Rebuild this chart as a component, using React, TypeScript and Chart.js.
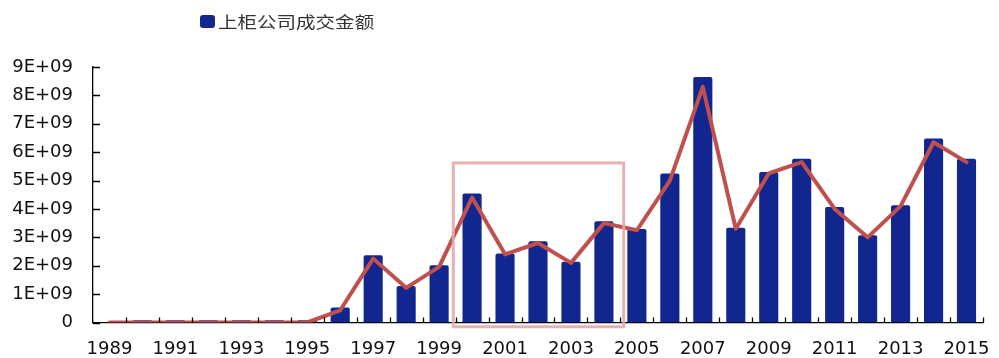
import React, { useEffect, useRef } from "react";
import { Chart, registerables } from "chart.js";

Chart.register(...registerables);

const years: string[] = [
  "1989", "1990", "1991", "1992", "1993", "1994", "1995", "1996", "1997",
  "1998", "1999", "2000", "2001", "2002", "2003", "2004", "2005", "2006",
  "2007", "2008", "2009", "2010", "2011", "2012", "2013", "2014", "2015",
];

// 上柜公司成交金额 (bars)
const barValues: number[] = [
  0, 0.08e9, 0.08e9, 0.08e9, 0.08e9, 0.08e9, 0.08e9, 0.53e9, 2.37e9,
  1.29e9, 2.02e9, 4.54e9, 2.43e9, 2.86e9, 2.14e9, 3.57e9, 3.29e9, 5.25e9,
  8.65e9, 3.34e9, 5.3e9, 5.77e9, 4.07e9, 3.07e9, 4.13e9, 6.48e9, 5.77e9,
];

// trend line (no legend entry)
const lineValues: number[] = [
  0, 0, 0, 0, 0, 0, 0, 0.43e9, 2.25e9,
  1.22e9, 1.96e9, 4.4e9, 2.4e9, 2.8e9, 2.1e9, 3.5e9, 3.25e9, 5.0e9,
  8.3e9, 3.3e9, 5.25e9, 5.65e9, 4.0e9, 3.0e9, 4.1e9, 6.35e9, 5.65e9,
];

const seriesName = "上柜公司成交金额";
const yMax = 9e9;
const yStep = 1e9;

// highlight box, in data units (category index, value)
const boxXFrom = 10.43;
const boxXTo = 15.6;
const boxYFrom = -0.15e9;
const boxYTo = 5.62e9;

const BAR_COLOR = "#11268F";
const LINE_COLOR = "#C0504D";

const insideTicks = {
  id: "insideTicks",
  afterDatasetsDraw(chart: any) {
    const { ctx, scales } = chart;
    const x = scales.x;
    const y = scales.y;
    ctx.save();
    ctx.strokeStyle = "#000";
    ctx.lineWidth = 1.3;
    ctx.beginPath();
    y.ticks.forEach((t: any) => {
      const py = Math.round(y.getPixelForValue(t.value)) + 0.5;
      ctx.moveTo(x.left, py);
      ctx.lineTo(x.left + 7, py);
    });
    for (let i = 0; i < years.length; i++) {
      const px = Math.round(x.getPixelForValue(i + 0.5)) + 0.5;
      ctx.moveTo(px, y.bottom);
      ctx.lineTo(px, y.bottom - 5);
    }
    ctx.stroke();
    ctx.restore();
  },
};

const highlightBox = {
  id: "highlightBox",
  afterDraw(chart: any) {
    const { ctx, scales } = chart;
    const x0 = scales.x.getPixelForValue(boxXFrom);
    const x1 = scales.x.getPixelForValue(boxXTo);
    const y0 = scales.y.getPixelForValue(boxYTo);
    const y1 = scales.y.getPixelForValue(boxYFrom);
    ctx.save();
    ctx.strokeStyle = "rgba(226,170,170,0.9)";
    ctx.lineWidth = 3;
    ctx.strokeRect(x0, y0, x1 - x0, y1 - y0);
    ctx.restore();
  },
};

export default function App() {
  const ref = useRef<HTMLCanvasElement | null>(null);

  useEffect(() => {
    document.body.style.margin = "0";
    if (!ref.current) return;
    const chart = new Chart(ref.current, {
      data: {
        labels: years,
        datasets: [
          {
            type: "line",
            label: "trend",
            data: lineValues,
            borderColor: LINE_COLOR,
            borderWidth: 4,
            pointRadius: 0,
            tension: 0,
            order: 0,
            borderJoinStyle: "round",
            borderCapStyle: "round",
          } as any,
          {
            type: "bar",
            label: seriesName,
            data: barValues,
            backgroundColor: BAR_COLOR,
            borderRadius: { topLeft: 2, topRight: 2 },
            categoryPercentage: 1,
            barPercentage: 0.58,
            order: 1,
          } as any,
        ],
      },
      options: {
        animation: false,
        responsive: true,
        maintainAspectRatio: false,
        layout: { padding: { top: 67, left: 12, right: 16, bottom: 0 } },
        plugins: {
          legend: { display: false },
          tooltip: { enabled: false },
        },
        scales: {
          x: {
            type: "category",
            offset: true,
            grid: { display: false, drawTicks: true, tickLength: 18 },
            border: { display: true, color: "#000", width: 1.3 },
            afterFit: (s: any) => {
              s.height = 35.5;
            },
            ticks: {
              autoSkip: false,
              maxRotation: 0,
              padding: 0,
              color: "#111",
              font: { family: "DejaVu Sans", size: 18, lineHeight: 1 },
              callback: (_v: any, i: number) => (i % 2 === 0 ? years[i] : ""),
            },
          },
          y: {
            min: 0,
            max: yMax,
            grid: { display: false, drawTicks: true, tickLength: 20 },
            border: { display: true, color: "#000", width: 1.3 },
            afterFit: (s: any) => {
              s.width = 81;
            },
            ticks: {
              stepSize: yStep,
              padding: 0,
              color: "#111",
              font: { family: "DejaVu Sans", size: 18, lineHeight: 1 },
              callback: (v: any) => (v === 0 ? "0" : `${Math.round(v / 1e9)}E+09`),
            },
          },
        },
      } as any,
      plugins: [insideTicks, highlightBox],
    });
    return () => chart.destroy();
  }, []);

  return (
    <div style={{ position: "relative", width: 999, height: 358 }}>
      <div
        style={{
          position: "absolute",
          left: 200,
          top: 9,
          display: "flex",
          alignItems: "center",
          fontFamily: "'Noto Sans CJK SC', sans-serif",
          fontSize: 16,
          color: "#333",
          whiteSpace: "nowrap",
        }}
      >
        <span
          style={{
            display: "inline-block",
            width: 15,
            height: 13,
            borderRadius: 3,
            background: BAR_COLOR,
            marginRight: 3,
          }}
        />
        <span style={{ display: "inline-block", transform: "scaleX(1.22)", transformOrigin: "left center" }}>
          {seriesName}
        </span>
      </div>
      <canvas ref={ref} />
    </div>
  );
}
